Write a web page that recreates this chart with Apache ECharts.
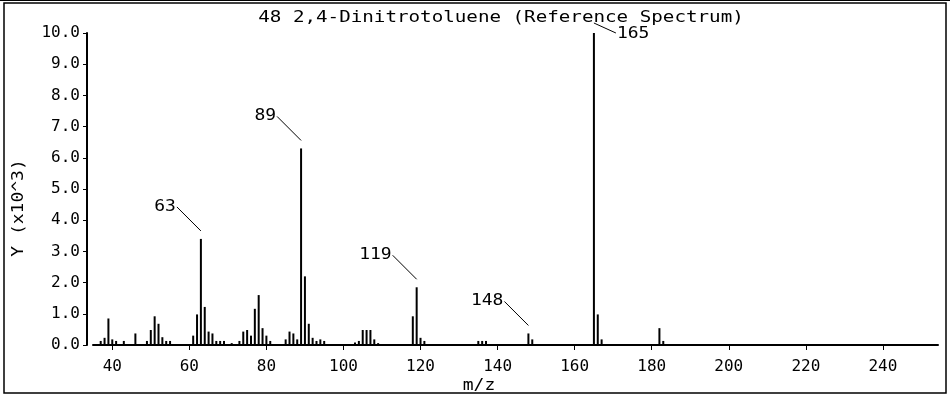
<!DOCTYPE html>
<html>
<head>
<meta charset="utf-8">
<script src="https://cdn.jsdelivr.net/npm/echarts@6/dist/echarts.min.js"></script>
<style>
  html, body { margin: 0; padding: 0; background: #fff; }
  #spectrum { width: 950px; height: 395px; }
</style>
</head>
<body>
<div id="spectrum"></div>
<script>
// m/z positions and intensities (x10^3)
var mzValues = [37, 38, 39, 40, 41, 43, 46, 49, 50, 51, 52, 53, 54, 55,
	61, 62, 63, 64, 65, 66, 67, 68, 69, 71, 73, 74, 75, 76, 77, 78, 79, 80, 81,
	85, 86, 87, 88, 89, 90, 91, 92, 93, 94, 95,
	103, 104, 105, 106, 107, 108, 109, 118, 119, 120, 121,
	135, 136, 137, 148, 149, 165, 166, 167, 182, 183];
var intensities = [0.13, 0.23, 0.85, 0.18, 0.13, 0.13, 0.37, 0.13, 0.48, 0.92, 0.68, 0.25, 0.13, 0.13,
	0.30, 0.98, 3.40, 1.22, 0.43, 0.37, 0.13, 0.13, 0.13, 0.06, 0.13, 0.43, 0.48, 0.30, 1.16, 1.60, 0.54, 0.30, 0.13,
	0.18, 0.43, 0.37, 0.18, 6.30, 2.20, 0.68, 0.23, 0.13, 0.18, 0.13,
	0.08, 0.13, 0.48, 0.48, 0.48, 0.18, 0.06, 0.92, 1.85, 0.23, 0.13,
	0.13, 0.13, 0.13, 0.37, 0.18, 10.0, 0.98, 0.18, 0.54, 0.13];

// peaks that get a label in the reference
var labelledPeaks = [63, 89, 119, 148, 165];

var xTicks = [40, 60, 80, 100, 120, 140, 160, 180, 200, 220, 240];

var chartTitle = '48 2,4-Dinitrotoluene (Reference Spectrum)';
var yName = 'Y (x10^3)';
var xName = 'm/z';

var FONT = 'DejaVu Sans Mono';
var WIDE = 1.2;   // the original pixel font is wider than DejaVu

var peaks = [];
for (var i = 0; i < mzValues.length; i++) {
	peaks.push([mzValues[i], intensities[i]]);
}
var labelData = [];
labelledPeaks.forEach(function(mz){
	var idx = mzValues.indexOf(mz);
	labelData.push([mz, intensities[idx]]);
});

var chart = echarts.init(document.getElementById('spectrum'));

option = {
	animation: false,
	backgroundColor: '#fff',
	grid: {
		left: 93,
		right: 12,
		top: 33,
		bottom: 50
	},
	xAxis: {
		type: 'value',
		min: 35,
		max: 254.3,
		offset: 6,
		splitLine: { show: false },
		axisLine: { lineStyle: { color: '#000', width: 2 } },
		axisTick: { length: 5, lineStyle: { color: '#000' }, customValues: xTicks },
		axisLabel: {
			customValues: xTicks,
			color: '#000',
			fontFamily: FONT,
			fontSize: 16,
			margin: 8
		}
	},
	yAxis: {
		type: 'value',
		min: 0,
		max: 10,
		interval: 1,
		offset: 6,
		splitLine: { show: false },
		axisLine: { show: true, lineStyle: { color: '#000', width: 2 } },
		axisTick: { show: true, length: 4, lineStyle: { color: '#000' } },
		axisLabel: {
			color: '#000',
			fontFamily: FONT,
			fontSize: 16,
			margin: 7,
			formatter: function(v){ return v.toFixed(1); }
		}
	},
	graphic: [
		{ type: 'rect', shape: { x: 4, y: 3, width: 942, height: 390 },
		  style: { fill: null, stroke: '#000', lineWidth: 1.5 }, silent: true },
		{ type: 'line', shape: { x1: 0, y1: 0.5, x2: 950, y2: 0.5 },
		  style: { stroke: '#000', lineWidth: 1 }, silent: true },
		{ type: 'text', x: 501, y: 18, scaleX: WIDE,
		  style: { text: chartTitle, align: 'center', verticalAlign: 'middle',
		           font: '16px "' + FONT + '"', fill: '#000' } },
		{ type: 'text', x: 19, y: 208, rotation: Math.PI / 2, scaleX: WIDE,
		  style: { text: yName, align: 'center', verticalAlign: 'middle',
		           font: '15px "' + FONT + '"', fill: '#000' } },
		{ type: 'text', x: 479, y: 386, scaleX: WIDE,
		  style: { text: xName, align: 'center', verticalAlign: 'middle',
		           font: '15px "' + FONT + '"', fill: '#000' } }
	],
	series: [
		{
			name: 'peaks',
			type: 'bar',
			barWidth: 2,
			itemStyle: { color: '#000' },
			data: peaks
		},
		{
			name: 'labels',
			type: 'custom',
			clip: false,
			data: labelData,
			renderItem: function(params, api){
				var mz = api.value(0);
				var p = api.coord([mz, api.value(1)]);
				var x1, y1, x2, y2, tx, ty, align;
				if (mz === 165) {
					// tallest peak: label sits to the right
					x1 = p[0]; y1 = p[1] - 10; x2 = p[0] + 22; y2 = p[1];
					tx = p[0] + 23; ty = p[1] + 1; align = 'left';
				} else {
					x1 = p[0] - 24; y1 = p[1] - 32; x2 = p[0]; y2 = p[1] - 8;
					tx = p[0] - 25; ty = p[1] - 32; align = 'right';
				}
				return {
					type: 'group',
					children: [
						{ type: 'line', shape: { x1: x1, y1: y1, x2: x2, y2: y2 },
						  style: { stroke: '#000', lineWidth: 1 } },
						{ type: 'text', x: tx, y: ty, scaleX: WIDE,
						  style: { text: String(mz), align: align, verticalAlign: 'middle',
						           font: '15px "' + FONT + '"', fill: '#000' } }
					]
				};
			}
		}
	]
};

chart.setOption(option);
</script>
</body>
</html>
